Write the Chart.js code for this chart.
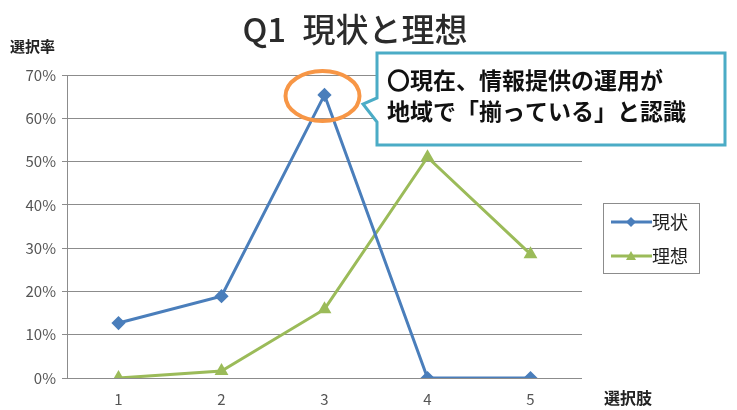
<!DOCTYPE html>
<html>
<head>
<meta charset="utf-8">
<script src="https://cdn.jsdelivr.net/npm/chart.js@4/dist/chart.umd.min.js"></script>
<style>
  html, body { margin: 0; padding: 0; background: #fff; }
  #wrap { width: 737px; height: 410px; position: relative; }
</style>
</head>
<body>
<div id="wrap"><canvas id="chart" width="737" height="410"></canvas></div>
<script>
const categories = ['1', '2', '3', '4', '5'];
const genjo = [12.7, 18.9, 65.4, 0, 0];   // 現状
const riso = [0, 1.6, 15.9, 51.0, 28.6];   // 理想
const seriesNames = ['現状', '理想'];
const yTicks = [0, 10, 20, 30, 40, 50, 60, 70];

const titleText = 'Q1\u2002現状と理想';
const yTitle = '選択率';
const xTitle = '選択肢';
const calloutLines = ['〇現在、情報提供の運用が', '地域で「揃っている」と認識'];

const JP = '"Noto Sans CJK JP", "Noto Sans", sans-serif';
const blue = '#4a7ebb';
const green = '#9bbb59';

// title, axis titles, legend box, callout and the orange ring
const decorations = {
    id: 'decorations',
    afterDraw(chart) {
        const ctx = chart.ctx;
        const x = chart.scales.x, y = chart.scales.y;
        ctx.save();

        ctx.fillStyle = '#2b2b2b';
        ctx.font = '500 33px ' + JP;
        ctx.textAlign = 'center';
        ctx.textBaseline = 'middle';
        ctx.fillText(titleText, 355, 29);

        ctx.font = 'bold 15px ' + JP;
        ctx.fillStyle = '#222';
        ctx.textAlign = 'left';
        ctx.fillText(yTitle, 10, 46);
        ctx.font = 'bold 16px ' + JP;
        ctx.fillText(xTitle, 604, 398);

        // legend
        ctx.strokeStyle = '#8c8c8c';
        ctx.lineWidth = 1;
        ctx.strokeRect(603.5, 203.5, 96, 70);
        const items = [
            { name: seriesNames[0], color: blue, y: 222, shape: 'diamond' },
            { name: seriesNames[1], color: green, y: 256, shape: 'tri' }
        ];
        items.forEach(it => {
            ctx.strokeStyle = it.color;
            ctx.lineWidth = 3;
            ctx.beginPath();
            ctx.moveTo(611, it.y);
            ctx.lineTo(652, it.y);
            ctx.stroke();
            ctx.fillStyle = it.color;
            ctx.beginPath();
            if (it.shape === 'diamond') {
                ctx.moveTo(631, it.y - 5); ctx.lineTo(636, it.y);
                ctx.lineTo(631, it.y + 5); ctx.lineTo(626, it.y);
            } else {
                ctx.moveTo(631, it.y - 5); ctx.lineTo(636, it.y + 4); ctx.lineTo(626, it.y + 4);
            }
            ctx.closePath();
            ctx.fill();
            ctx.fillStyle = '#222';
            ctx.font = '18px ' + JP;
            ctx.textAlign = 'left';
            ctx.fillText(it.name, 652, it.y);
        });

        // orange ring around the peak of 現状
        const px = x.getPixelForValue(2), py = y.getPixelForValue(genjo[2]);
        ctx.strokeStyle = '#f79646';
        ctx.lineWidth = 4;
        ctx.beginPath();
        ctx.ellipse(px - 2, py + 1, 37, 25, 0, 0, Math.PI * 2);
        ctx.stroke();

        // callout with tail
        ctx.fillStyle = '#fff';
        ctx.strokeStyle = '#4bacc6';
        ctx.lineWidth = 3;
        ctx.beginPath();
        ctx.moveTo(377, 53);
        ctx.lineTo(725, 53);
        ctx.lineTo(725, 145);
        ctx.lineTo(377, 145);
        ctx.lineTo(377, 122);
        ctx.lineTo(363, 104);
        ctx.lineTo(377, 98);
        ctx.closePath();
        ctx.fill();
        ctx.stroke();

        ctx.fillStyle = '#111';
        ctx.font = 'bold 23px ' + JP;
        ctx.textAlign = 'left';
        ctx.fillText(calloutLines[0], 387, 80);
        ctx.fillText(calloutLines[1], 387, 111);

        ctx.restore();
    }
};

const ctx = document.getElementById('chart').getContext('2d');
new Chart(ctx, {
    type: 'line',
    data: {
        labels: categories,
        datasets: [{
            label: seriesNames[0],
            data: genjo,
            borderColor: blue,
            backgroundColor: blue,
            borderWidth: 3,
            pointStyle: 'rectRot',
            pointRadius: 5,
            tension: 0
        }, {
            label: seriesNames[1],
            data: riso,
            borderColor: green,
            backgroundColor: green,
            borderWidth: 3,
            pointStyle: 'triangle',
            pointRadius: 5,
            tension: 0
        }]
    },
    options: {
        responsive: false,
        animation: false,
        layout: { padding: { left: 0, right: 155, top: 75, bottom: 0 } },
        scales: {
            x: {
                offset: true,
                grid: { display: false, drawTicks: false },
                border: { display: false },
                ticks: { color: '#555', font: { size: 15, family: JP }, padding: 12 },
                afterFit(scale) { scale.height = 32; }
            },
            y: {
                min: 0,
                max: 70,
                afterBuildTicks(scale) { scale.ticks = yTicks.map(v => ({ value: v })); },
                grid: { color: '#8c8c8c', tickLength: 5 },
                border: { display: true, color: '#8c8c8c' },
                ticks: {
                    color: '#555',
                    font: { size: 15, family: JP },
                    padding: 6,
                    callback: v => v + '%'
                },
                afterFit(scale) { scale.width = 67; }
            }
        },
        plugins: {
            legend: { display: false },
            tooltip: { enabled: false }
        }
    },
    plugins: [decorations]
});
</script>
</body>
</html>
